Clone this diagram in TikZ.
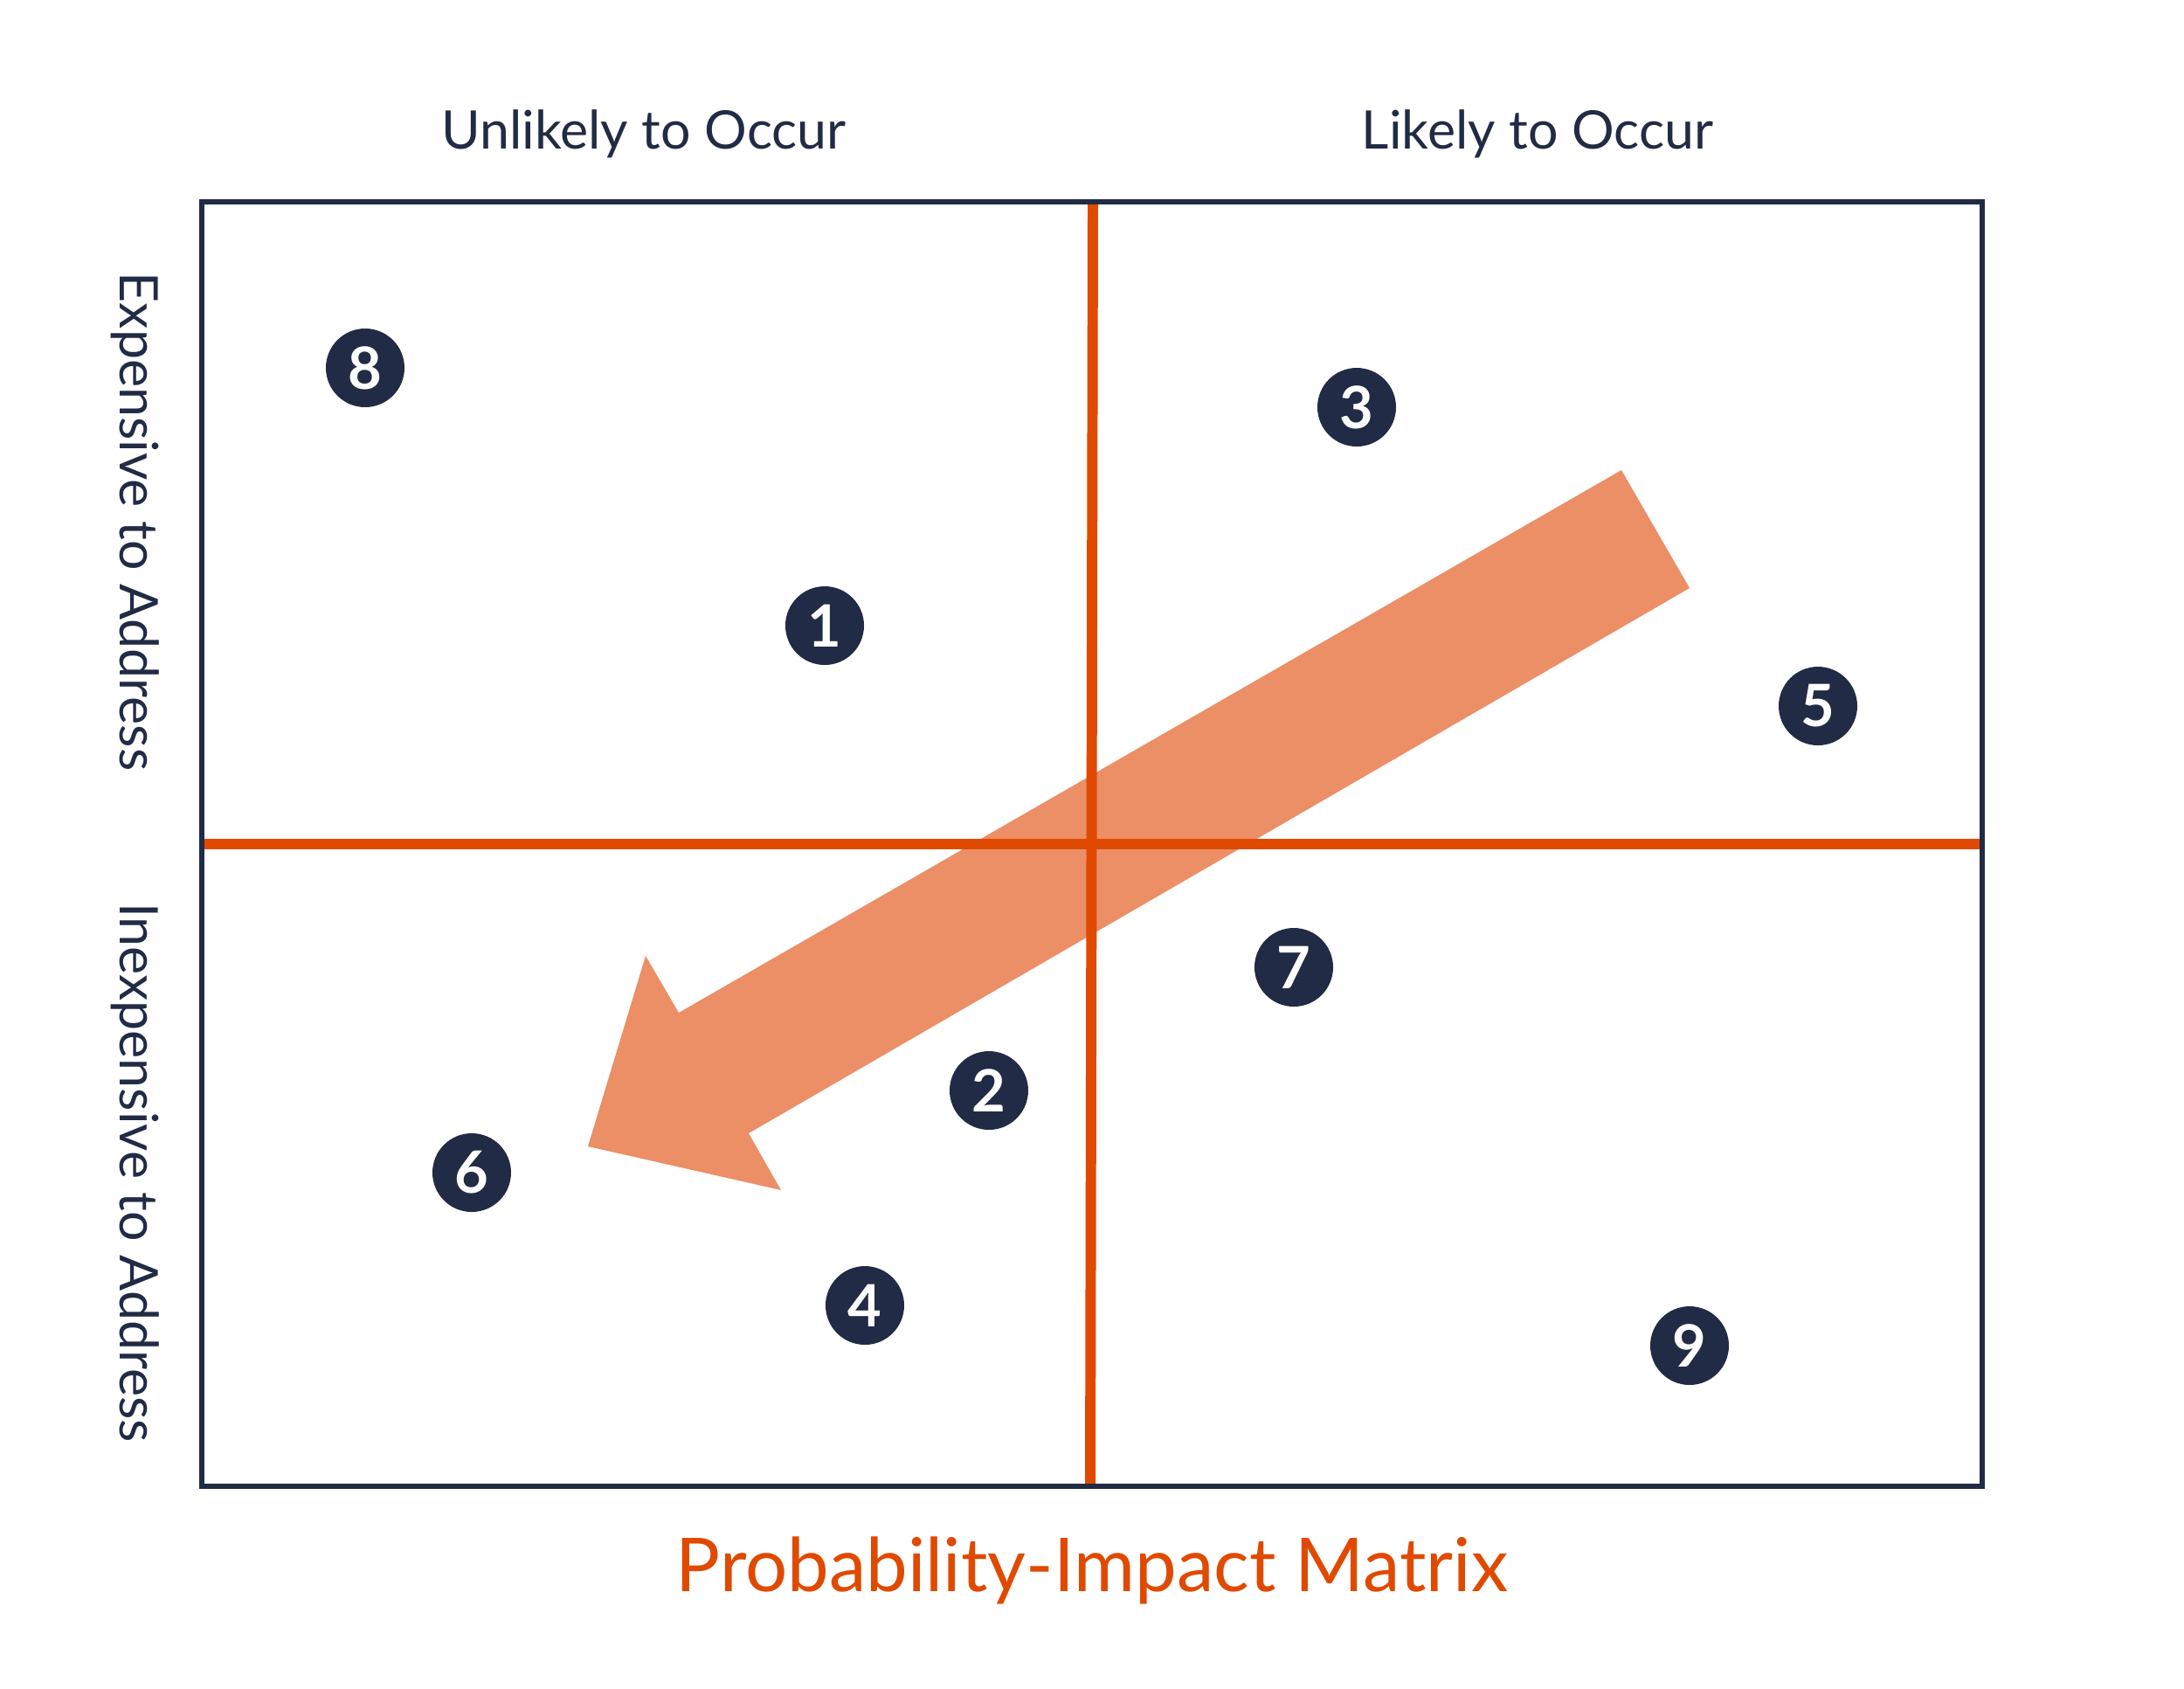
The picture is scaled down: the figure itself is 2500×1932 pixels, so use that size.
\documentclass[tikz,border=0pt]{standalone}
\usepackage{fontspec}
\setmainfont{Lato}
\definecolor{navy}{HTML}{222B45}
\definecolor{redor}{HTML}{E04A00}
\definecolor{arrowor}{HTML}{EC8E66}
\begin{document}
\begin{tikzpicture}[x=0.01cm,y=-0.01cm,
  risk/.style={circle,fill=navy,minimum size=90*0.01cm,inner sep=0pt,text=white,font=\fontsize{19}{20}\selectfont\bfseries},
  lbl/.style={text=navy,font=\fontsize{17.3}{20}\selectfont,inner sep=0pt},
  frame/.style={draw=navy,line width=1.7pt},
  divider/.style={draw=redor,line width=3.4pt}]
\useasboundingbox (0,0) rectangle (2500,1932);
% arrow
\fill[arrowor] (1856,538) -- (1934,673) -- (857,1297) -- (894,1362) -- (673,1312) -- (739,1094) -- (777,1159) -- cycle;
% frame
\coordinate (tl) at (231,231);
\coordinate (br) at (2269,1701);
\coordinate (vt) at (1251,231);
\coordinate (vb) at (1248,1701);
\coordinate (hl) at (231,966);
\coordinate (hr) at (2269,966);
\draw[divider] (vt) -- (vb);
\draw[divider] (hl) -- (hr);
\draw[frame] (tl) rectangle (br);
% labels
\node[lbl] (unl) at (737,153) {Unlikely to Occur};
\node[lbl] (lik) at (1760,153) {Likely to Occur};
\node[lbl,rotate=-90] (exp) at (155,597) {Expensive to Address};
\node[lbl,rotate=-90] (inexp) at (155,1342) {Inexpensive to Address};
\node[text=redor,inner sep=0pt,font=\fontsize{24.2}{26}\selectfont] (title) at (1250,1797) {Probability-Impact Matrix};
% risks
\node[risk] (c8) at (418,421) {8};
\node[risk] (c3) at (1553,466) {3};
\node[risk] (c1) at (944,716) {1};
\node[risk] (c5) at (2081,808) {5};
\node[risk] (c7) at (1481,1107) {7};
\node[risk] (c2) at (1132,1248) {2};
\node[risk] (c6) at (540,1342) {6};
\node[risk] (c4) at (990,1494) {4};
\node[risk] (c9) at (1934,1540) {9};
\end{tikzpicture}
\end{document}
